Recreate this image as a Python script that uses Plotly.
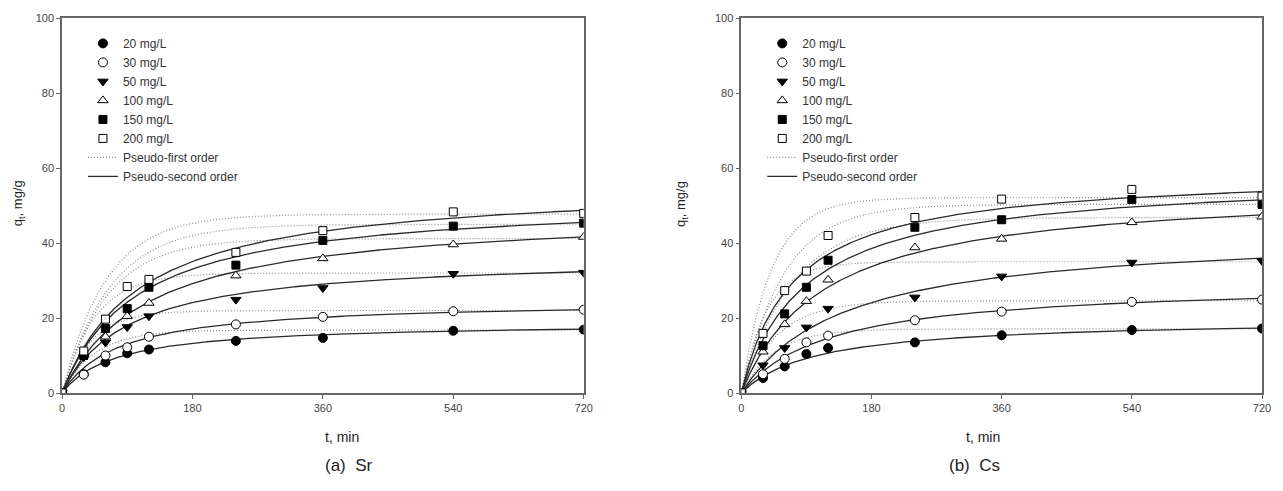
import numpy as np
import plotly.graph_objects as go

# ---------------- data ----------------
t_min = [0, 30, 60, 90, 120, 240, 360, 540, 720]
conc_labels = ["20 mg/L", "30 mg/L", "50 mg/L", "100 mg/L", "150 mg/L", "200 mg/L"]

# Sr adsorption (q_t, mg/g)
sr_20 = [0, 5.0, 8.2, 10.6, 11.6, 13.9, 14.7, 16.6, 16.9]
sr_30 = [0, 4.9, 10.0, 12.2, 15.0, 18.3, 20.3, 21.8, 22.2]
sr_50 = [0, 9.6, 13.5, 17.6, 20.5, 24.9, 28.0, 31.8, 32.1]
sr_100 = [0, 10.2, 15.0, 20.5, 24.0, 31.3, 35.9, 39.6, 41.6]
sr_150 = [0, 10.0, 17.2, 22.5, 28.2, 34.1, 40.7, 44.5, 45.3]
sr_200 = [0, 11.2, 19.7, 28.4, 30.3, 37.5, 43.3, 48.3, 47.9]

# Cs adsorption (q_t, mg/g)
cs_20 = [0, 4.0, 7.1, 10.4, 12.0, 13.5, 15.4, 16.8, 17.2]
cs_30 = [0, 5.0, 9.1, 13.5, 15.3, 19.4, 21.7, 24.3, 24.9]
cs_50 = [0, 7.4, 12.0, 17.5, 22.5, 25.5, 31.1, 34.8, 35.2]
cs_100 = [0, 11.0, 18.3, 24.5, 30.2, 38.8, 41.1, 45.5, 47.0]
cs_150 = [0, 12.6, 21.1, 28.2, 35.4, 44.2, 46.2, 51.6, 50.3]
cs_200 = [0, 15.9, 27.3, 32.5, 42.0, 46.8, 51.7, 54.3, 52.5]

# fitted kinetic parameters
sr_pfo_qe = [16.8, 22.0, 32.0, 41.2, 45.0, 47.7]
sr_pfo_k1 = [0.022, 0.025, 0.022, 0.016, 0.015, 0.0165]
sr_pso_qe = [18.8, 24.7, 36.5, 48.5, 52.0, 56.0]
sr_pso_h = [0.0133, 0.0125, 0.0108, 0.0084, 0.0097, 0.0093]   # qe*k2

cs_pfo_qe = [17.1, 24.6, 35.0, 46.8, 50.3, 52.1]
cs_pfo_k1 = [0.022, 0.020, 0.028, 0.014, 0.017, 0.024]
cs_pso_qe = [19.8, 29.5, 43.0, 55.0, 58.0, 59.0]
cs_pso_h = [0.0097, 0.0082, 0.0071, 0.0088, 0.011, 0.014]

x_ticks = [0, 180, 360, 540, 720]
y_ticks = [0, 20, 40, 60, 80, 100]

# ---------------- styling ----------------
FONT = "Liberation Sans, Arial, sans-serif"
marker_styles = [
    dict(symbol="circle", color="black", size=9),
    dict(symbol="circle", color="white", size=9),
    dict(symbol="triangle-down", color="black", size=9),
    dict(symbol="triangle-up", color="white", size=9),
    dict(symbol="square", color="black", size=8),
    dict(symbol="square", color="white", size=8),
]

t_fine = np.linspace(0, 720, 721)

fig = go.Figure()


def add_panel(series, pfo_qe, pfo_k, pso_qe, pso_h, xa, ya, legend):
    # pseudo-first order
    for i in range(6):
        y = pfo_qe[i] * (1 - np.exp(-pfo_k[i] * t_fine))
        fig.add_trace(go.Scatter(
            x=t_fine, y=y, mode="lines", xaxis=xa, yaxis=ya,
            line=dict(color="#8c8c8c", width=1.2, dash="1px,2px"),
            name="Pseudo-first order", showlegend=(i == 0),
            legend=legend, legendrank=100, hoverinfo="skip"))
    # pseudo-second order
    for i in range(6):
        h = pso_h[i]
        y = pso_qe[i] * h * t_fine / (1 + h * t_fine)
        fig.add_trace(go.Scatter(
            x=t_fine, y=y, mode="lines", xaxis=xa, yaxis=ya,
            line=dict(color="#2a2a2a", width=1.3),
            name="Pseudo-second order", showlegend=(i == 0),
            legend=legend, legendrank=200, hoverinfo="skip"))
    # data markers
    for i, (lab, vals) in enumerate(zip(conc_labels, series)):
        ms = marker_styles[i]
        fig.add_trace(go.Scatter(
            x=t_min, y=vals, mode="markers", xaxis=xa, yaxis=ya,
            marker=dict(symbol=ms["symbol"], color=ms["color"], size=ms["size"],
                        line=dict(color="black", width=1)),
            name=lab, legend=legend, legendrank=i + 1))


add_panel([sr_20, sr_30, sr_50, sr_100, sr_150, sr_200],
          sr_pfo_qe, sr_pfo_k1, sr_pso_qe, sr_pso_h, "x", "y", "legend")
add_panel([cs_20, cs_30, cs_50, cs_100, cs_150, cs_200],
          cs_pfo_qe, cs_pfo_k1, cs_pso_qe, cs_pso_h, "x2", "y2", "legend2")

W, H = 1283, 491
ml, mr, mt, mb = 62, 18, 15, 98
pw = W - ml - mr
ph = H - mt - mb
left_dom = [0, (585 - 62) / pw]
right_dom = [(743 - 62) / pw, 1]

axis_common = dict(
    showgrid=False, zeroline=False, showline=True, linecolor="#666", linewidth=1.5,
    mirror=True, ticks="outside", ticklen=4, tickwidth=1, tickcolor="#666",
    tickfont=dict(family=FONT, size=11, color="#444"),
)

legend_common = dict(xanchor="left", yanchor="top", bgcolor="rgba(0,0,0,0)",
                     font=dict(family=FONT, size=12, color="#333"),
                     tracegroupgap=0, itemwidth=30, traceorder="normal")

fig.update_layout(
    width=W, height=H,
    margin=dict(l=ml, r=mr, t=mt, b=mb),
    paper_bgcolor="white", plot_bgcolor="white",
    font=dict(family=FONT, color="#333"),
    xaxis=dict(domain=left_dom, range=[0, 720], tickvals=x_ticks, anchor="y", **axis_common),
    yaxis=dict(domain=[0, 1], range=[0, 100], tickvals=y_ticks, anchor="x", **axis_common),
    xaxis2=dict(domain=right_dom, range=[0, 720], tickvals=x_ticks, anchor="y2", **axis_common),
    yaxis2=dict(domain=[0, 1], range=[0, 100], tickvals=y_ticks, anchor="x2", **axis_common),
    legend=dict(x=(83 - ml) / pw, y=(H - mb - 26) / ph, **legend_common),
    legend2=dict(x=(764 - ml) / pw, y=(H - mb - 26) / ph, **legend_common),
    showlegend=True,
)

ann = []
for x0, x1, cap, ydx in [(62, 585, "(a)\u00a0\u00a0Sr", -54), (743, 1265, "(b)\u00a0\u00a0Cs", -60)]:
    cx = (x0 + x1) / 2
    ann.append(dict(text="t, min", x=(cx - ml) / pw, y=(H - mb - 447) / ph,
                    xref="paper", yref="paper", showarrow=False,
                    font=dict(family=FONT, size=14, color="#222")))
    ann.append(dict(text=cap, x=(cx - ml) / pw, y=(H - mb - 478) / ph,
                    xref="paper", yref="paper", showarrow=False,
                    font=dict(family=FONT, size=17, color="#222")))
    ann.append(dict(text="q<sub>t</sub>, mg/g", x=(x0 + ydx - ml) / pw, y=(H - mb - 202) / ph,
                    xref="paper", yref="paper", showarrow=False, textangle=-90,
                    font=dict(family=FONT, size=13, color="#222")))
fig.update_layout(annotations=ann)

fig.write_html("out.html")
